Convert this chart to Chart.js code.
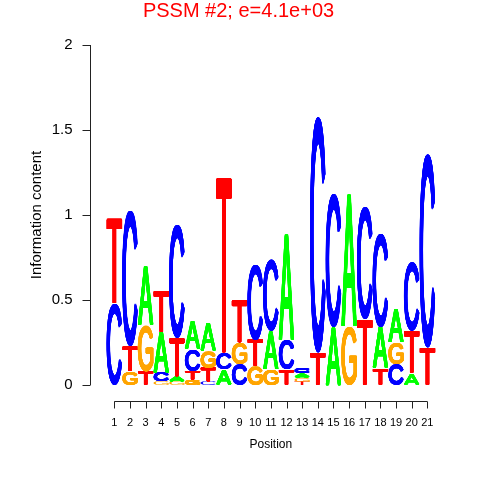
<!DOCTYPE html>
<html>
<head>
<meta charset="utf-8">
<script src="https://cdn.jsdelivr.net/npm/chart.js@4/dist/chart.umd.min.js"></script>
<style>
html,body{margin:0;padding:0;background:#fff;}
#wrap{width:480px;height:480px;}
</style>
</head>
<body>
<div id="wrap"><canvas id="c" width="480" height="480"></canvas></div>
<script>
// ---- data ----
const titleText = 'PSSM #2; e=4.1e+03';
const positions = ['1','2','3','4','5','6','7','8','9','10','11','12','13','14','15','16','17','18','19','20','21'];
const letters = ['A','C','G','T'];
const A = [0, 0, 0.35, 0.24, 0.03, 0.17, 0.17, 0.09, 0, 0, 0.23, 0.625, 0.025, 0, 0.34, 0.78, 0, 0.24, 0.20, 0.07, 0];
const C = [0.48, 0.80, 0, 0.05, 0.67, 0.13, 0.02, 0.10, 0.12, 0.44, 0.415, 0.175, 0.03, 1.39, 0.78, 0, 0.66, 0.55, 0.12, 0.40, 1.14];
const G = [0, 0.08, 0.27, 0.02, 0.02, 0.03, 0.10, 0, 0.13, 0.11, 0.09, 0, 0.023, 0, 0, 0.34, 0, 0, 0.13, 0, 0];
const T = [0.50, 0.15, 0.08, 0.245, 0.23, 0.05, 0.08, 1.03, 0.25, 0.155, 0, 0.09, 0.02, 0.19, 0, 0, 0.39, 0.10, 0, 0.25, 0.22];
const yTickValues = [0, 0.5, 1, 1.5, 2];
const yTickLabels = ['0', '0.5', '1', '1.5', '2'];
const letterColors = {A: '#00FF00', C: '#0000FF', G: '#FFA500', T: '#FF0000'};

// ---- build stacked ranks (smallest at bottom) ----
const series = {A, C, G, T};
const rankVals = [[], [], [], []];
const rankLetters = [[], [], [], []];
positions.forEach((p, i) => {
  const arr = letters.map(l => ({l, v: series[l][i]})).sort((a, b) => a.v - b.v);
  arr.forEach((o, k) => { rankVals[k].push(o.v); rankLetters[k].push(o.l); });
});
const datasets = rankVals.map((vals, k) => ({
  label: 'rank' + k,
  data: vals,
  letters: rankLetters[k],
  backgroundColor: 'rgba(0,0,0,0)',
  borderWidth: 0,
  stack: 's',
  barPercentage: 1,
  categoryPercentage: 0.99
}));

const FONT = '"Liberation Sans", Arial, Helvetica, sans-serif';
Chart.defaults.font.family = FONT;
Chart.defaults.color = '#000';

function drawLetter(ctx, ch, color, x0, x1, yTop, yBot) {
  const fs = 200;
  ctx.save();
  ctx.font = fs + 'px ' + FONT;
  ctx.textAlign = 'left';
  ctx.textBaseline = 'alphabetic';
  const m = ctx.measureText(ch);
  const gl = m.actualBoundingBoxLeft, gr = m.actualBoundingBoxRight;
  const ga = m.actualBoundingBoxAscent, gd = m.actualBoundingBoxDescent;
  const gw = gl + gr, gh = ga + gd;
  ctx.fillStyle = color;
  const h = yBot - yTop;
  const r = h > 4 ? 0.65 : 0;
  const offs = [[0, 0]];
  if (r > 0) {
    for (let k = 0; k < 16; k++) {
      const a = k * Math.PI / 8;
      offs.push([r * Math.cos(a), r * Math.sin(a)]);
    }
  }
  const bx0 = x0 + r, bx1 = x1 - r, by0 = yTop + r, by1 = yBot - r;
  offs.forEach(([dx, dy]) => {
    ctx.save();
    ctx.translate(bx0 + dx, by0 + dy);
    ctx.scale((bx1 - bx0) / gw, (by1 - by0) / gh);
    ctx.fillText(ch, gl, ga);
    ctx.restore();
  });
  ctx.restore();
}

const logoPlugin = {
  id: 'logo',
  afterDatasetsDraw(chart) {
    const ctx = chart.ctx;
    chart.data.datasets.forEach((ds, di) => {
      const meta = chart.getDatasetMeta(di);
      meta.data.forEach((el, i) => {
        if (!(ds.data[i] > 0)) return;
        const {x, y, base, width} = el.getProps(['x', 'y', 'base', 'width'], true);
        const top = Math.min(y, base), bot = Math.max(y, base);
        if (bot - top < 0.3) return;
        const l = ds.letters[i];
        drawLetter(ctx, l, letterColors[l], x - width / 2, x + width / 2, top, bot);
      });
    });
  },
  afterDraw(chart) {
    const ctx = chart.ctx;
    const xs = chart.scales.x, ys = chart.scales.y;
    ctx.save();
    // title
    ctx.fillStyle = '#FF0000';
    ctx.font = '20px ' + FONT;
    ctx.textAlign = 'center';
    ctx.textBaseline = 'alphabetic';
    ctx.fillText(titleText, 238.5, 16.5);
    ctx.strokeStyle = '#222';
    ctx.lineWidth = 1;
    // y axis
    const ax = 90.5;
    ctx.beginPath();
    ctx.moveTo(ax, ys.getPixelForValue(yTickValues[0]));
    ctx.lineTo(ax, ys.getPixelForValue(yTickValues[yTickValues.length - 1]));
    yTickValues.forEach(v => {
      const py = Math.round(ys.getPixelForValue(v)) + 0.5;
      ctx.moveTo(ax, py);
      ctx.lineTo(ax - 8, py);
    });
    ctx.stroke();
    // x axis
    const ay = 401.5;
    ctx.beginPath();
    ctx.moveTo(xs.getPixelForValue(0), ay);
    ctx.lineTo(xs.getPixelForValue(positions.length - 1), ay);
    positions.forEach((p, i) => {
      const px = Math.round(xs.getPixelForValue(i)) + 0.5;
      ctx.moveTo(px, ay);
      ctx.lineTo(px, ay + 7);
    });
    ctx.stroke();
    ctx.restore();
  }
};

new Chart(document.getElementById('c'), {
  type: 'bar',
  data: {labels: positions, datasets},
  plugins: [logoPlugin],
  options: {
    responsive: false,
    animation: false,
    devicePixelRatio: 1,
    layout: {padding: {left: 0, right: 44.8, top: 45, bottom: 0}},
    plugins: {
      legend: {display: false},
      tooltip: {enabled: false},
      title: {display: false}
    },
    scales: {
      x: {
        type: 'category',
        stacked: true,
        grid: {display: false, drawTicks: false},
        border: {display: false},
        ticks: {autoSkip: false, maxRotation: 0, minRotation: 0, font: {size: 11}, padding: 31.4, color: '#000'},
        title: {display: true, text: 'Position', font: {size: 12}, padding: {top: 0, bottom: 27.8}, color: '#000'},
        afterFit(s) { s.height = 95; }
      },
      y: {
        type: 'linear',
        stacked: true,
        min: 0,
        max: 2,
        grid: {display: false, drawTicks: false},
        border: {display: false},
        afterBuildTicks(s) { s.ticks = yTickValues.map(v => ({value: v})); },
        ticks: {
          font: {size: 15},
          padding: 34,
          color: '#000',
          callback: (v, i) => yTickLabels[i]
        },
        title: {display: true, text: 'Information content', font: {size: 15}, padding: {top: 28.3, bottom: 0}, color: '#000'},
        afterFit(s) { s.width = 106.5; }
      }
    }
  }
});
</script>
</body>
</html>
